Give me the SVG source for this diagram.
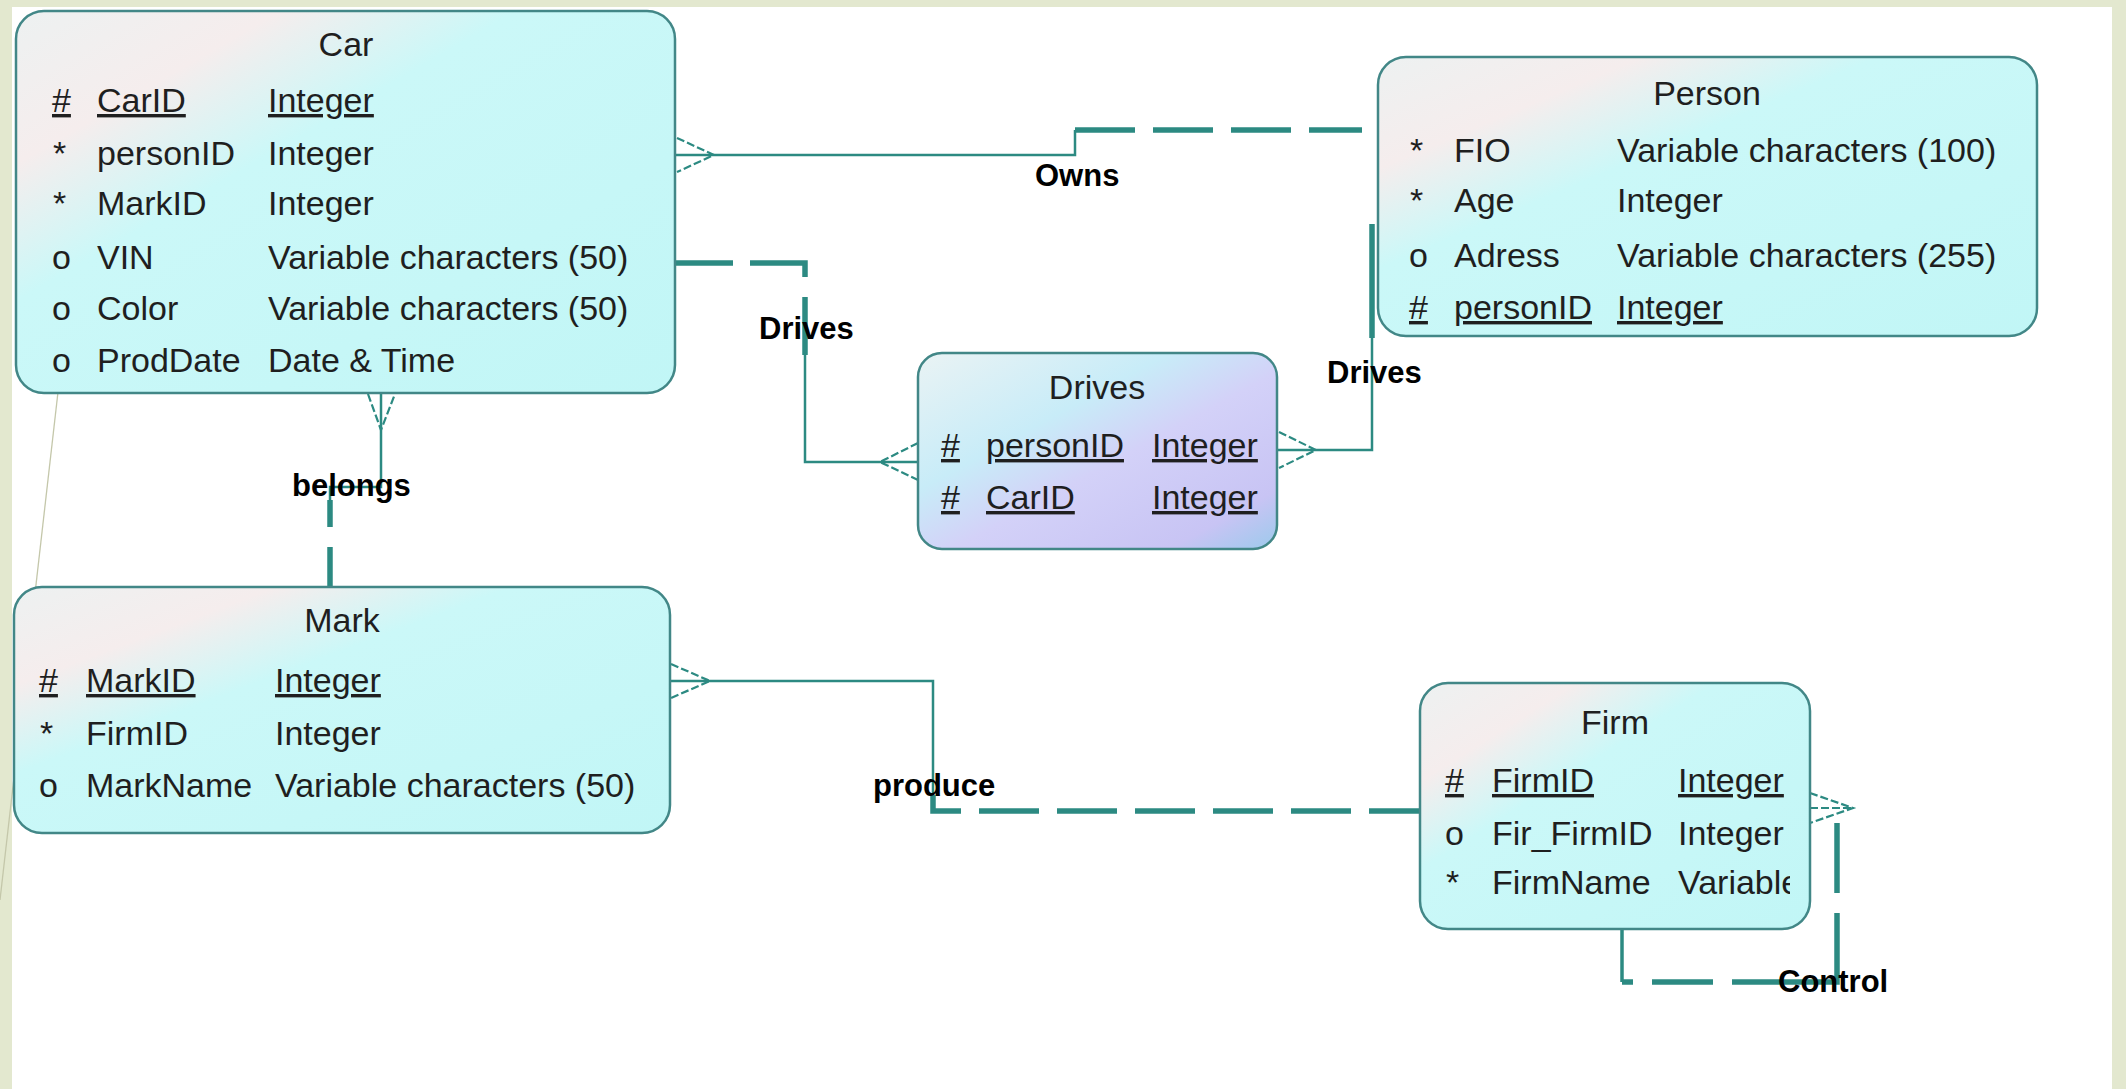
<svg xmlns="http://www.w3.org/2000/svg" width="2126" height="1089" viewBox="0 0 2126 1089">
  <defs>
    <!-- entity fill: pale sheen in the top-left corner fading into cyan -->
    <linearGradient id="entFill" x1="0" y1="0" x2="1" y2="1">
      <stop offset="0" stop-color="#edf1f1"/>
      <stop offset="0.2" stop-color="#f5eded"/>
      <stop offset="0.38" stop-color="#cbf8f8"/>
      <stop offset="1" stop-color="#c1f6f6"/>
    </linearGradient>
    <!-- association fill: cyan to lavender to blue -->
    <linearGradient id="assocFill" x1="0" y1="0" x2="1" y2="1">
      <stop offset="0" stop-color="#eaf3f4"/>
      <stop offset="0.35" stop-color="#c8ecf8"/>
      <stop offset="0.55" stop-color="#d3d1f8"/>
      <stop offset="0.85" stop-color="#c8c4f4"/>
      <stop offset="1" stop-color="#9ccaec"/>
    </linearGradient>
    <clipPath id="firmClip">
      <rect x="1420" y="683" width="370" height="246"/>
    </clipPath>
  </defs>
  <style>
    .ent { fill: url(#entFill); stroke: #428787; stroke-width: 2.5; }
    .assoc { fill: url(#assocFill); stroke: #428787; stroke-width: 2.5; }
    .t { font-family: "Liberation Sans", Arial, sans-serif; font-size: 34px; fill: #1f1f1f; }
    .title { text-anchor: middle; }
    .key { text-decoration: underline; }
    .lbl { font-family: "Liberation Sans", Arial, sans-serif; font-size: 31px; font-weight: bold; fill: #000000; }
    .solid { fill: none; stroke: #2c8a82; stroke-width: 2.5; }
    .dash { fill: none; stroke: #2c8a82; stroke-width: 5.5; stroke-dasharray: 60 18; }
    .thick { fill: none; stroke: #2c8a82; stroke-width: 5.5; }
    .crow { fill: none; stroke: #2c8a82; stroke-width: 2.2; stroke-dasharray: 8 3; }
  </style>

  <!-- page -->
  <rect x="0" y="0" width="2126" height="1089" fill="#e3e8cf"/>
  <rect x="12" y="7" width="2100" height="1082" fill="#ffffff"/>
  <path d="M58,392 L0,900" fill="none" stroke="#c4c7aa" stroke-width="1.3"/>

  <!-- relationships -->
  <g id="connectors">
    <!-- Owns: Car - Person -->
    <path class="solid" d="M675,155 H1075 V130"/>
    <path class="dash" d="M1075,130 H1362"/>
    <path class="crow" d="M677,138 L714,155 L677,172"/>

    <!-- Drives: Car - Drives -->
    <path class="dash" style="stroke-dasharray:58 17 69 20 60" d="M675,263 H805 V355"/>
    <path class="solid" d="M805,355 V462 H918"/>
    <path class="crow" d="M918,443 L880,462 L918,480"/>

    <!-- Drives: Person - Drives -->
    <path class="thick" d="M1372,224 V338"/>
    <path class="solid" d="M1372,338 V450 H1277"/>
    <path class="crow" d="M1279,432 L1316,450 L1279,468"/>

    <!-- belongs: Car - Mark -->
    <path class="solid" d="M381,393 V487 H330 V500"/>
    <path class="dash" style="stroke-dasharray:27 20 60 18" d="M330,500 V587"/>
    <path class="crow" d="M368,394 L381,430 L395,394"/>

    <!-- produce: Mark - Firm -->
    <path class="solid" d="M670,681 H933 V795"/>
    <path class="dash" style="stroke-dashoffset:16" d="M933,795 V811 H1420"/>
    <path class="crow" d="M671,664 L710,681 L671,698"/>

    <!-- Control: Firm - Firm -->
    <path class="solid" style="stroke-width:3.5" d="M1622,929 V982"/>
    <path class="dash" style="stroke-dasharray:11 19 61 19 174 20 70" d="M1622,982 H1837 V823"/>
    <path class="crow" d="M1810,793 L1853,808 L1810,823 M1810,808 H1853"/>
  </g>

  <!-- Car -->
  <g id="car">
    <rect class="ent" x="16" y="11" width="659" height="382" rx="28" ry="28"/>
    <text class="t title" x="346" y="56">Car</text>
    <text class="t key" x="52" y="112">#</text>
    <text class="t key" x="97" y="112">CarID</text>
    <text class="t key" x="268" y="112">Integer</text>
    <text class="t" x="53" y="165">*</text>
    <text class="t" x="97" y="165">personID</text>
    <text class="t" x="268" y="165">Integer</text>
    <text class="t" x="53" y="215">*</text>
    <text class="t" x="97" y="215">MarkID</text>
    <text class="t" x="268" y="215">Integer</text>
    <text class="t" x="52" y="269">o</text>
    <text class="t" x="97" y="269">VIN</text>
    <text class="t" x="268" y="269">Variable characters (50)</text>
    <text class="t" x="52" y="320">o</text>
    <text class="t" x="97" y="320">Color</text>
    <text class="t" x="268" y="320">Variable characters (50)</text>
    <text class="t" x="52" y="372">o</text>
    <text class="t" x="97" y="372">ProdDate</text>
    <text class="t" x="268" y="372">Date &amp; Time</text>
  </g>

  <!-- Person -->
  <g id="person">
    <rect class="ent" x="1378" y="57" width="659" height="279" rx="28" ry="28"/>
    <text class="t title" x="1707" y="105">Person</text>
    <text class="t" x="1410" y="162">*</text>
    <text class="t" x="1454" y="162">FIO</text>
    <text class="t" x="1617" y="162">Variable characters (100)</text>
    <text class="t" x="1410" y="212">*</text>
    <text class="t" x="1454" y="212">Age</text>
    <text class="t" x="1617" y="212">Integer</text>
    <text class="t" x="1409" y="267">o</text>
    <text class="t" x="1454" y="267">Adress</text>
    <text class="t" x="1617" y="267">Variable characters (255)</text>
    <text class="t key" x="1409" y="319">#</text>
    <text class="t key" x="1454" y="319">personID</text>
    <text class="t key" x="1617" y="319">Integer</text>
  </g>

  <!-- Drives -->
  <g id="drives">
    <rect class="assoc" x="918" y="353" width="359" height="196" rx="24" ry="24"/>
    <text class="t title" x="1097" y="399">Drives</text>
    <text class="t key" x="941" y="457">#</text>
    <text class="t key" x="986" y="457">personID</text>
    <text class="t key" x="1152" y="457">Integer</text>
    <text class="t key" x="941" y="509">#</text>
    <text class="t key" x="986" y="509">CarID</text>
    <text class="t key" x="1152" y="509">Integer</text>
  </g>

  <!-- Mark -->
  <g id="mark">
    <rect class="ent" x="14" y="587" width="656" height="246" rx="28" ry="28"/>
    <text class="t title" x="342" y="632">Mark</text>
    <text class="t key" x="39" y="692">#</text>
    <text class="t key" x="86" y="692">MarkID</text>
    <text class="t key" x="275" y="692">Integer</text>
    <text class="t" x="40" y="745">*</text>
    <text class="t" x="86" y="745">FirmID</text>
    <text class="t" x="275" y="745">Integer</text>
    <text class="t" x="39" y="797">o</text>
    <text class="t" x="86" y="797">MarkName</text>
    <text class="t" x="275" y="797">Variable characters (50)</text>
  </g>

  <!-- Firm -->
  <g id="firm">
    <rect class="ent" x="1420" y="683" width="390" height="246" rx="28" ry="28"/>
    <text class="t title" x="1615" y="734">Firm</text>
    <text class="t key" x="1445" y="792">#</text>
    <text class="t key" x="1492" y="792">FirmID</text>
    <text class="t key" x="1678" y="792">Integer</text>
    <text class="t" x="1445" y="845">o</text>
    <text class="t" x="1492" y="845">Fir_FirmID</text>
    <text class="t" x="1678" y="845">Integer</text>
    <text class="t" x="1446" y="894">*</text>
    <text class="t" x="1492" y="894">FirmName</text>
    <text class="t" x="1678" y="894" clip-path="url(#firmClip)">Variable</text>
  </g>

  <!-- relationship names -->
  <g id="labels">
    <text class="lbl" x="1035" y="186">Owns</text>
    <text class="lbl" x="759" y="339">Drives</text>
    <text class="lbl" x="1327" y="383">Drives</text>
    <text class="lbl" x="292" y="496">belongs</text>
    <text class="lbl" x="873" y="796">produce</text>
    <text class="lbl" x="1778" y="992">Control</text>
  </g>
</svg>
